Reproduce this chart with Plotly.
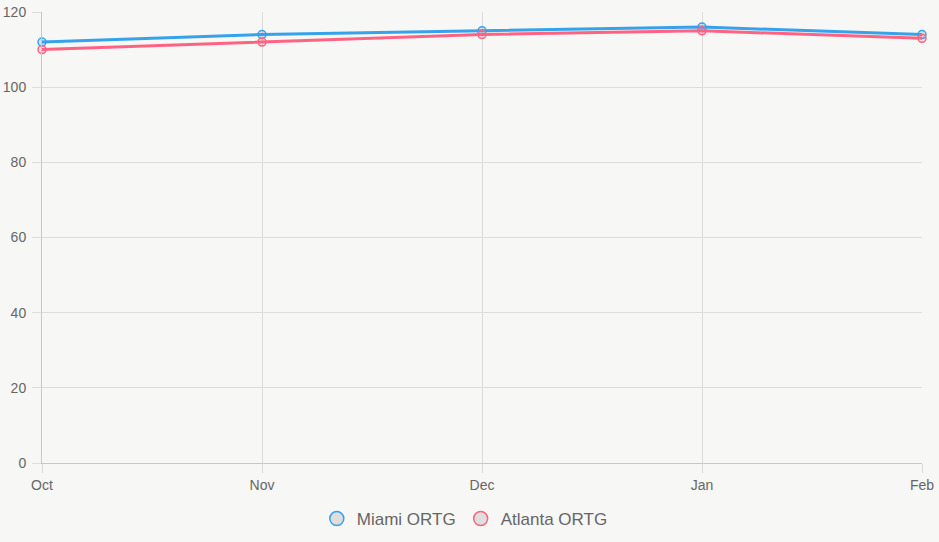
import plotly.graph_objects as go

months = ["Oct", "Nov", "Dec", "Jan", "Feb"]
miami_ortg = [112, 114, 115, 116, 114]
atlanta_ortg = [110, 112, 114, 115, 113]
y_ticks = [0, 20, 40, 60, 80, 100, 120]

BLUE = "#36a2eb"
PINK = "#ff6384"
GRID = "#dcdcdc"
FONT = "Liberation Sans, Arial, sans-serif"

fig = go.Figure()

series = [("Miami ORTG", miami_ortg, BLUE, "rgba(54,162,235,0.2)"),
          ("Atlanta ORTG", atlanta_ortg, PINK, "rgba(255,99,132,0.2)")]

for name, vals, col, fill in series:
    fig.add_trace(go.Scatter(
        x=months, y=vals, mode="lines+markers", name=name, showlegend=False,
        line=dict(color=col, width=3),
        marker=dict(size=8, color=fill, line=dict(color=col, width=1.5)),
        cliponaxis=False,
    ))

for name, vals, col, fill in series:
    fig.add_trace(go.Scatter(
        x=[None], y=[None], mode="markers", name=name,
        marker=dict(size=14, color="#dedede", line=dict(color=col, width=1.5)),
    ))

fig.update_layout(
    width=939, height=542,
    margin=dict(l=42, r=17, t=12, b=79, autoexpand=False),
    paper_bgcolor="#f7f7f5", plot_bgcolor="#f7f7f5",
    font=dict(family=FONT, color="#666666", size=14),
    legend=dict(orientation="h", xref="container", x=0.495, xanchor="center",
                yref="container", y=(542 - 519) / 542, yanchor="middle",
                font=dict(size=17, color="#666666"), bgcolor="rgba(0,0,0,0)"),
    hovermode=False,
)

fig.update_xaxes(
    type="category", range=[0, len(months) - 1],
    showgrid=True, gridcolor=GRID, gridwidth=1,
    ticks="outside", ticklen=9, tickcolor=GRID,
    showline=True, linecolor="#c8c8c8", linewidth=1,
    tickfont=dict(size=14, color="#666666"),
    zeroline=False, automargin=False,
)
fig.update_yaxes(
    range=[0, 120], tickvals=y_ticks,
    showgrid=True, gridcolor=GRID, gridwidth=1,
    ticks="outside", ticklen=9, tickcolor=GRID,
    showline=True, linecolor="#c8c8c8", linewidth=1,
    tickfont=dict(size=14, color="#666666"),
    ticklabelstandoff=3,
    zeroline=False, automargin=False,
)

fig.write_html("out.html")
